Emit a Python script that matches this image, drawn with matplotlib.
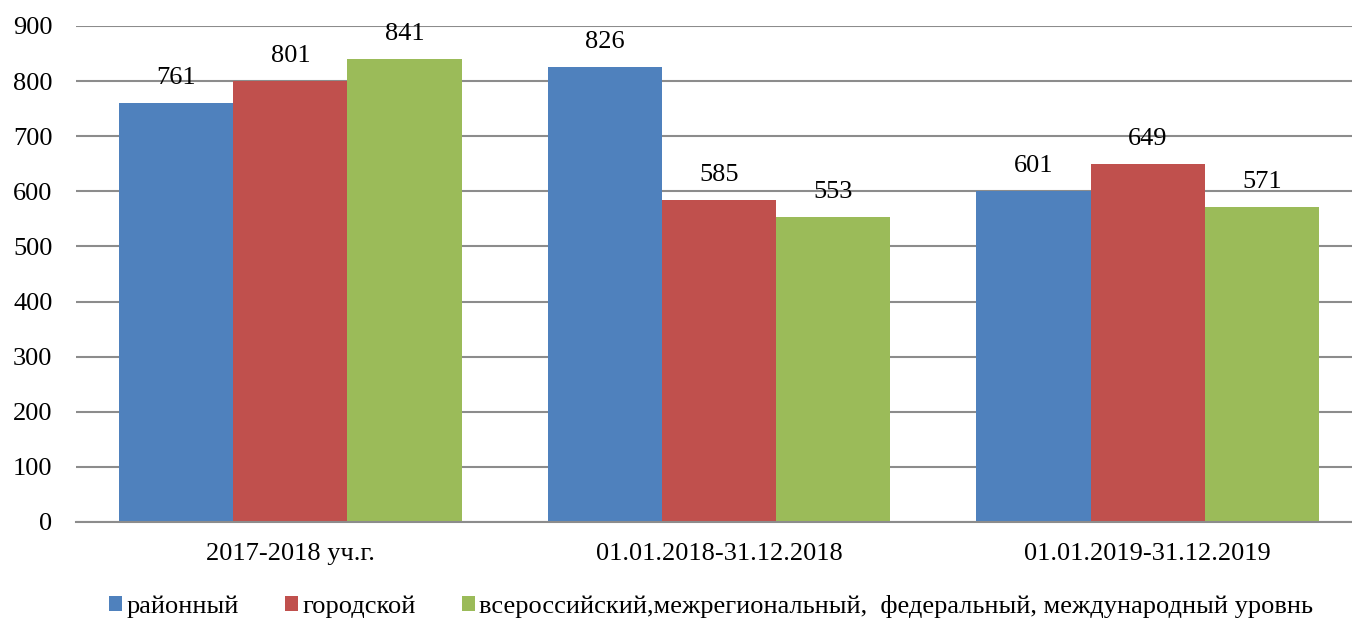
import matplotlib
matplotlib.use("Agg")
import matplotlib.pyplot as plt
import numpy as np

categories = ["2017-2018 уч.г.", "01.01.2018-31.12.2018", "01.01.2019-31.12.2019"]
series_names = ["районный", "городской",
                "всероссийский,межрегиональный,  федеральный, международный уровнь"]
series_values = [
    [761, 826, 601],
    [801, 585, 649],
    [841, 553, 571],
]
colors = ["#4F81BD", "#C0504D", "#9BBB59"]
yticks = [0, 100, 200, 300, 400, 500, 600, 700, 800, 900]

plt.rcParams['font.family'] = ['Liberation Serif', 'DejaVu Serif']
FS = 19

fig = plt.figure(figsize=(13.52, 6.23), dpi=100)
W, H = 1352, 623
left, right = 76, 1362
top, bottom = 26, 522
ax = fig.add_axes([left / W, 1 - bottom / H, (right - left) / W, (bottom - top) / H])

x = np.arange(len(categories))
bw = 0.8 / 3
for i, (name, vals, c) in enumerate(zip(series_names, series_values, colors)):
    pos = x + (i - 1) * bw
    ax.bar(pos, vals, width=bw, color=c, label=name, zorder=3, linewidth=0)
    for p, v in zip(pos, vals):
        ax.annotate(str(v), (p, v), xytext=(0, 10), textcoords="offset points",
                    ha="center", va="bottom", fontsize=FS, zorder=4)

ax.set_xlim(-0.5, 2.5)
ax.set_ylim(0, 900)
ax.set_yticks(yticks)
ax.set_yticklabels([str(t) for t in yticks], fontsize=FS)
ax.set_xticks(x)
ax.set_xticklabels(categories, fontsize=FS)
ax.tick_params(axis='both', length=0)
ax.tick_params(axis='y', pad=17)
ax.tick_params(axis='x', pad=15)
ax.yaxis.grid(True, color="#8c8c8c", linewidth=1.5, zorder=0)
for s in ["top", "right", "left"]:
    ax.spines[s].set_visible(False)
ax.spines["bottom"].set_color("#8c8c8c")
ax.spines["bottom"].set_linewidth(1.5)
ax.spines["bottom"].set_zorder(5)

fig.legend(loc="center", bbox_to_anchor=(711 / W, 1 - 606 / H), ncol=3, frameon=False,
           fontsize=FS, handlelength=0.5, handleheight=0.5, handletextpad=0.15,
           columnspacing=1.75)

fig.savefig("out.png", dpi=100)
